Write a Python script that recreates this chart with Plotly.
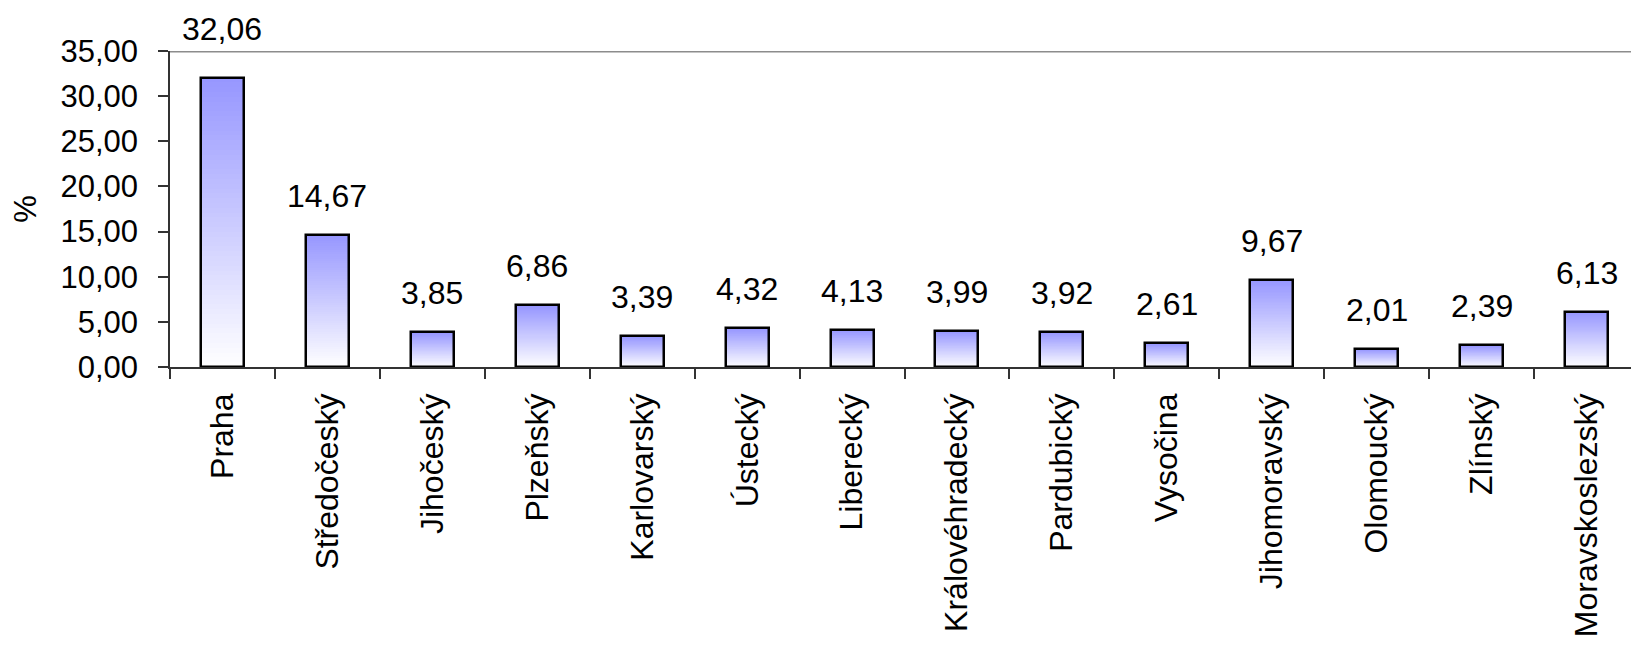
import plotly.graph_objects as go

categories = ["Praha", "Středočeský", "Jihočeský", "Plzeňský", "Karlovarský", "Ústecký",
              "Liberecký", "Královéhradecký", "Pardubický", "Vysočina", "Jihomoravský",
              "Olomoucký", "Zlínský", "Moravskoslezský"]
values = [32.06, 14.67, 3.85, 6.86, 3.39, 4.32, 4.13, 3.99, 3.92, 2.61, 9.67, 2.01, 2.39, 6.13]
y_ticks = [0, 5, 10, 15, 20, 25, 30, 35]

FONT = "Liberation Sans, Arial, sans-serif"
BAR_W = 0.41
N = 60
top_rgb = (150, 150, 255)
bot_rgb = (255, 255, 255)

fig = go.Figure()

# gradient fill: each bar split into N slices, colour from white (bottom) to blue (top)
for k in range(N):
    f = (k + 0.5) / N
    c = tuple(round(bot_rgb[i] + (top_rgb[i] - bot_rgb[i]) * f) for i in range(3))
    fig.add_trace(go.Bar(
        x=categories,
        y=[v / N for v in values],
        base=[v * k / N for v in values],
        width=BAR_W,
        marker=dict(color="rgb(%d,%d,%d)" % c, line=dict(width=0)),
        showlegend=False, hoverinfo="skip",
    ))

# outline
fig.add_trace(go.Bar(
    x=categories, y=values, width=BAR_W,
    marker=dict(color="rgba(0,0,0,0)", line=dict(color="black", width=2.5)),
    showlegend=False,
))

vmax = max(values)
for c, v in zip(categories, values):
    fig.add_annotation(x=c, y=v, text=f"{v:.2f}".replace(".", ","), showarrow=False,
                       yanchor="bottom", yshift=29 if v == vmax else 19,
                       font=dict(family=FONT, size=32, color="black"))

fig.add_shape(type="line", xref="paper", yref="y", x0=0, x1=1, y0=35, y1=35,
              line=dict(color="#8c8c8c", width=3))

# page body adds an 8px margin, so the figure is sized/offset to compensate
fig.update_layout(
    width=1631, height=637,
    margin=dict(l=162, r=0, t=43, b=278, autoexpand=False),
    barmode="overlay", bargap=0,
    plot_bgcolor="white", paper_bgcolor="white",
    separators=", ",
    font=dict(family=FONT, color="black"),
)
fig.update_yaxes(
    range=[0, 35], tickvals=y_ticks, tickformat=".2f",
    showgrid=False, zeroline=False,
    showline=True, linecolor="#333333", linewidth=1.5,
    ticks="outside", ticklen=10, tickcolor="#333333", tickwidth=1.5,
    tickfont=dict(family=FONT, size=31, color="black"),
    ticklabelstandoff=14,
    title=dict(text="%", font=dict(family=FONT, size=31, color="black"), standoff=20),
    automargin=False,
)
fig.update_xaxes(
    showgrid=False, showline=True, linecolor="#333333", linewidth=1.5,
    ticks="outside", ticklen=10, tickcolor="#333333", tickwidth=1.5,
    tickson="boundaries", tickangle=-90,
    tickfont=dict(family=FONT, size=32, color="black"),
    ticklabelstandoff=12,
    range=[-0.5, len(categories) - 0.5],
    automargin=False,
)

fig.write_html("out.html")
